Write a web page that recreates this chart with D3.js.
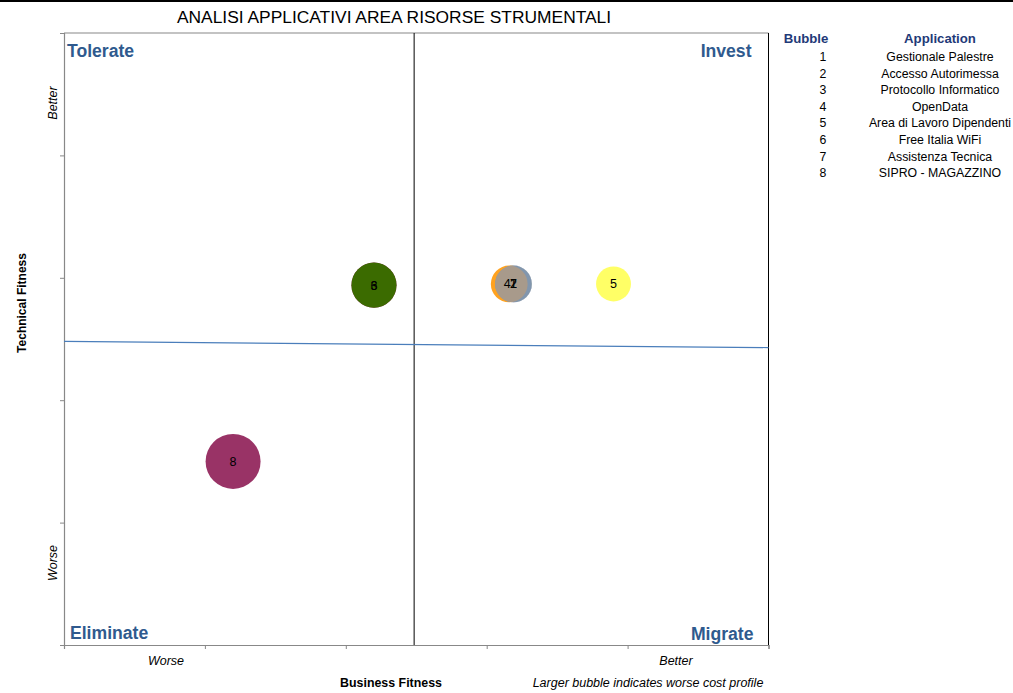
<!DOCTYPE html>
<html>
<head>
<meta charset="utf-8">
<script src="https://cdn.jsdelivr.net/npm/d3@7"></script>
<style>
  html, body { margin: 0; padding: 0; background: #fff; }
  svg { display: block; font-family: "Liberation Sans", Arial, sans-serif; }
</style>
</head>
<body>
<svg id="chart" width="1013" height="693"></svg>
<script>
// ---- data ----
const bubbleIds = [1, 2, 3, 4, 5, 6, 7, 8];
const appNames = ["Gestionale Palestre", "Accesso Autorimessa", "Protocollo Informatico", "OpenData",
                  "Area di Lavoro Dipendenti", "Free Italia WiFi", "Assistenza Tecnica", "SIPRO - MAGAZZINO"];
const businessFitness = [3.19, 3.19, 2.20, 3.16, 3.90, 2.20, 3.19, 1.20];
const technicalFitness = [2.95, 2.95, 2.94, 2.95, 2.95, 2.94, 2.95, 1.50];
const costSize = [3.0, 3.0, 4.5, 3.0, 2.7, 4.5, 3.0, 6.7];
const bubbleColors = ["#9999ff", "#ffffcc", "#993366", "#ffa21f", "#ffff66", "#3b6b00", "#8196ae", "#993366"];
const overlapColor = "#a89a8b";
const drawOrder = [0, 1, 2, 5, 3, 6, 4, 7]; // index order bubbles are painted
const xTicks = [0, 1, 2, 3, 4, 5];
const yTicks = [0, 1, 2, 3, 4, 5];
const dividerX = [2.485];
const dividerLineX = [0, 5];
const dividerLineY = [2.48, 2.43];
const quadrantLabels = ["Tolerate", "Invest", "Eliminate", "Migrate"];
const titleText = "ANALISI APPLICATIVI AREA RISORSE STRUMENTALI";

// ---- layout ----
const svg = d3.select("#chart");
const L = 64, R = 768.5, T = 33, B = 645;
const x = d3.scaleLinear().domain([0, 5]).range([L, R]);
const y = d3.scaleLinear().domain([0, 5]).range([B, T]);
const rScale = d3.scaleSqrt().domain([0, d3.max(costSize)]).range([0, 27.5]);

// top black rule
svg.append("line").attr("x1", 0).attr("x2", 1013).attr("y1", 1).attr("y2", 1)
  .attr("stroke", "#000").attr("stroke-width", 2);

// title
svg.append("text").attr("x", 394).attr("y", 23).attr("text-anchor", "middle")
  .attr("font-size", 17.4).attr("fill", "#000").text(titleText);

// plot frame
svg.append("line").attr("x1", L).attr("x2", R).attr("y1", T).attr("y2", T).attr("stroke", "#888").attr("stroke-width", 1.2);
svg.append("line").attr("x1", R).attr("x2", R).attr("y1", T).attr("y2", B).attr("stroke", "#000").attr("stroke-width", 1);

// axes
const xAxis = d3.axisBottom(x).tickValues(xTicks).tickSize(4).tickFormat("");
const gx = svg.append("g").attr("transform", `translate(0,${B})`).call(xAxis);
gx.select(".domain").attr("stroke", "#888").attr("stroke-width", 1.2);
gx.selectAll(".tick line").attr("stroke", "#888");

const yAxis = d3.axisLeft(y).tickValues(yTicks).tickSize(4).tickFormat("");
const gy = svg.append("g").attr("transform", `translate(${L},0)`).call(yAxis);
gy.select(".domain").attr("stroke", "#888").attr("stroke-width", 1.2);
gy.selectAll(".tick line").attr("stroke", "#888");

// vertical divider
svg.selectAll(".vdiv").data(dividerX).enter().append("line")
  .attr("x1", d => x(d)).attr("x2", d => x(d)).attr("y1", T).attr("y2", B)
  .attr("stroke", "#000").attr("stroke-width", 1);

// horizontal divider (blue)
const hLine = d3.line().x((d, i) => x(dividerLineX[i])).y(d => y(d));
svg.append("path").datum(dividerLineY).attr("d", hLine)
  .attr("fill", "none").attr("stroke", "#4a7ebb").attr("stroke-width", 1.2);

// quadrant labels
const qColor = "#2f5a8e";
const qPos = [
  {x: L + 3, y: 57, a: "start"},
  {x: R - 17, y: 57, a: "end"},
  {x: L + 6, y: 639, a: "start"},
  {x: R - 15, y: 640, a: "end"}
];
svg.selectAll(".qlab").data(quadrantLabels).enter().append("text")
  .attr("x", (d, i) => qPos[i].x).attr("y", (d, i) => qPos[i].y)
  .attr("text-anchor", (d, i) => qPos[i].a)
  .attr("font-size", 17.6).attr("font-weight", "bold").attr("fill", qColor).text(d => d);

// bubbles
const defs = svg.append("defs");
const gB = svg.append("g");
drawOrder.forEach(i => {
  gB.append("circle").attr("cx", x(businessFitness[i])).attr("cy", y(technicalFitness[i]))
    .attr("r", rScale(costSize[i])).attr("fill", bubbleColors[i]);
});
// overlap of bubble 4 and bubble 7 (semi-transparent look)
defs.append("clipPath").attr("id", "clip4").append("circle")
  .attr("cx", x(businessFitness[3])).attr("cy", y(technicalFitness[3])).attr("r", rScale(costSize[3]));
gB.append("circle").attr("clip-path", "url(#clip4)")
  .attr("cx", x(businessFitness[6])).attr("cy", y(technicalFitness[6]))
  .attr("r", rScale(costSize[6])).attr("fill", overlapColor);

// bubble labels
svg.selectAll(".blab").data(bubbleIds).enter().append("text")
  .attr("x", (d, i) => x(businessFitness[i]) + (i === 3 ? -2 : 0))
  .attr("y", (d, i) => y(technicalFitness[i]) + 4.5)
  .attr("text-anchor", "middle").attr("font-size", 12.5).attr("fill", "#000")
  .text(d => d);

// axis texts
svg.append("text").attr("transform", "translate(57,103) rotate(-90)").attr("text-anchor", "middle")
  .attr("font-size", 12.5).attr("font-style", "italic").text("Better");
svg.append("text").attr("transform", "translate(57,563) rotate(-90)").attr("text-anchor", "middle")
  .attr("font-size", 12.5).attr("font-style", "italic").text("Worse");
svg.append("text").attr("transform", "translate(26,303) rotate(-90)").attr("text-anchor", "middle")
  .attr("font-size", 12).attr("font-weight", "bold").text("Technical  Fitness");
svg.append("text").attr("x", 166).attr("y", 665).attr("text-anchor", "middle")
  .attr("font-size", 12.5).attr("font-style", "italic").text("Worse");
svg.append("text").attr("x", 676).attr("y", 665).attr("text-anchor", "middle")
  .attr("font-size", 12.5).attr("font-style", "italic").text("Better");
svg.append("text").attr("x", 391).attr("y", 687).attr("text-anchor", "middle")
  .attr("font-size", 12.4).attr("font-weight", "bold").text("Business  Fitness");
svg.append("text").attr("x", 648).attr("y", 687).attr("text-anchor", "middle")
  .attr("font-size", 12.5).attr("font-style", "italic").text("Larger  bubble indicates worse cost profile");

// legend table
const navy = "#1f3a78";
svg.append("text").attr("x", 806).attr("y", 43).attr("text-anchor", "middle")
  .attr("font-size", 13.2).attr("font-weight", "bold").attr("fill", navy).text("Bubble");
svg.append("text").attr("x", 940).attr("y", 43).attr("text-anchor", "middle")
  .attr("font-size", 13.2).attr("font-weight", "bold").attr("fill", navy).text("Application");
svg.selectAll(".lnum").data(bubbleIds).enter().append("text")
  .attr("x", 823).attr("y", (d, i) => 61 + i * 16.6).attr("text-anchor", "middle")
  .attr("font-size", 12.3).attr("fill", "#000").text(d => d);
svg.selectAll(".lname").data(appNames).enter().append("text")
  .attr("x", 940).attr("y", (d, i) => 61 + i * 16.6).attr("text-anchor", "middle")
  .attr("font-size", 12.3).attr("fill", "#000").text(d => d);
</script>
</body>
</html>
